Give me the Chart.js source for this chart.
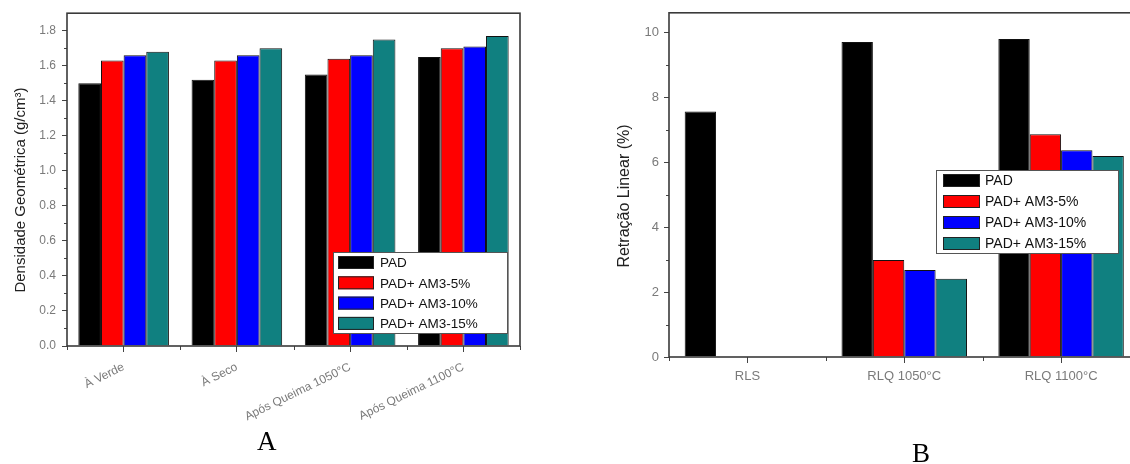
<!DOCTYPE html>
<html>
<head>
<meta charset="utf-8">
<script src="https://cdn.jsdelivr.net/npm/chart.js@4.4.1/dist/chart.umd.min.js"></script>
<style>
  html, body { margin: 0; padding: 0; background: #fff; width: 1130px; height: 464px; overflow: hidden; }
  #wrapA { position: absolute; left: 0; top: 0; width: 540px; height: 464px; }
  #wrapB { position: absolute; left: 580px; top: 0; width: 580px; height: 464px; }
  .panel { position: absolute; font-family: "Liberation Serif", "DejaVu Serif", serif; font-size: 27px; color: #000; line-height: 1; }
  #labA { left: 257px; top: 428px; }
  #labB { left: 912px; top: 440px; }
</style>
</head>
<body>
<div id="wrapA"><canvas id="chartA" width="540" height="464"></canvas></div>
<div id="wrapB"><canvas id="chartB" width="580" height="464"></canvas></div>
<div class="panel" id="labA">A</div>
<div class="panel" id="labB">B</div>
<script>
// ---------- data ----------
const seriesNames = ['PAD', 'PAD+ AM3-5%', 'PAD+ AM3-10%', 'PAD+ AM3-15%'];
const seriesColors = ['#000000', '#ff0000', '#0000ff', '#108080'];

const categoriesA = ['À Verde', 'À Seco', 'Após Queima 1050°C', 'Após Queima 1100°C'];
const padA   = [1.50, 1.52, 1.55, 1.65];
const am5A   = [1.63, 1.63, 1.64, 1.70];
const am10A  = [1.66, 1.66, 1.66, 1.71];
const am15A  = [1.68, 1.70, 1.75, 1.77];
const yTitleA = 'Densidade Geométrica (g/cm³)';
const yMaxA = 1.9, yStepA = 0.2;

const categoriesB = ['RLS', 'RLQ 1050°C', 'RLQ 1100°C'];
const padB   = [7.56, 9.70, 9.79];
const am5B   = [null, 2.99, 6.86];
const am10B  = [null, 2.68, 6.37];
const am15B  = [null, 2.41, 6.19];
const yTitleB = 'Retração Linear (%)';
const yMaxB = 10.6, yStepB = 2;

// ---------- plugins ----------
const frameAndMinor = {
  id: 'frameAndMinor',
  afterDraw(chart, args, o) {
    const { ctx, chartArea: a, scales: { x, y } } = chart;
    ctx.save();
    ctx.strokeStyle = '#444';
    ctx.lineWidth = 1;
    // y minor ticks
    const yt = y.ticks;
    for (let i = 0; i < yt.length - 1; i++) {
      const v = (yt[i].value + yt[i + 1].value) / 2;
      const py = Math.round(y.getPixelForValue(v)) + 0.5;
      ctx.beginPath(); ctx.moveTo(a.left - 3, py); ctx.lineTo(a.left, py); ctx.stroke();
    }
    // x minor ticks at category boundaries
    for (let i = 0; i <= x.ticks.length; i++) {
      const px = Math.round(x.getPixelForValue(i - 0.5)) + 0.5;
      ctx.beginPath(); ctx.moveTo(px, a.bottom); ctx.lineTo(px, a.bottom + 4); ctx.stroke();
    }
    // frame
    ctx.strokeStyle = '#3a3a3a';
    ctx.lineWidth = 1.6;
    ctx.strokeRect(a.left, a.top, a.right - a.left, a.bottom - a.top);
    ctx.restore();
  }
};

const boxLegend = {
  id: 'boxLegend',
  afterDraw(chart, args, o) {
    const { ctx } = chart;
    const ds = chart.data.datasets;
    ctx.save();
    ctx.fillStyle = '#fff';
    ctx.fillRect(o.left, o.top, o.width, o.height);
    ctx.strokeStyle = '#555';
    ctx.lineWidth = 1;
    ctx.strokeRect(o.left + 0.5, o.top + 0.5, o.width, o.height);
    ctx.font = o.fontSize + 'px "Liberation Sans", Arial, sans-serif';
    ctx.textBaseline = 'middle';
    ctx.textAlign = 'left';
    ds.forEach((d, i) => {
      const cy = o.top + o.first + i * o.row;
      ctx.fillStyle = d.backgroundColor;
      ctx.fillRect(o.left + o.swX, cy - o.swH / 2, o.swW, o.swH);
      ctx.strokeStyle = '#222';
      ctx.strokeRect(o.left + o.swX + 0.5, cy - o.swH / 2 + 0.5, o.swW - 1, o.swH - 1);
      ctx.fillStyle = '#111';
      ctx.fillText(d.label, o.left + o.textX, cy + 1);
    });
    ctx.restore();
  }
};

function makeDatasets(arrs) {
  return arrs.map((data, i) => ({
    label: seriesNames[i],
    data: data,
    backgroundColor: seriesColors[i],
    borderColor: '#111',
    borderWidth: 1,
    categoryPercentage: 0.8,
    barPercentage: 1.0
  }));
}

const tickGrey = '#7a7a7a';
const sans = '"Liberation Sans", Arial, sans-serif';

// ---------- Chart A ----------
new Chart(document.getElementById('chartA'), {
  type: 'bar',
  data: { labels: categoriesA, datasets: makeDatasets([padA, am5A, am10A, am15A]) },
  options: {
    responsive: false,
    animation: false,
    devicePixelRatio: 1,
    layout: { padding: { left: 0, right: 20, top: 13, bottom: 0 } },
    plugins: {
      legend: { display: false },
      tooltip: { enabled: false },
      boxLegend: { left: 333, top: 252, width: 174, height: 81, first: 10.5, row: 20.3, swX: 5, swW: 36, swH: 13, textX: 47, fontSize: 13.5 }
    },
    scales: {
      x: {
        afterFit: s => { s.height = 118; },
        grid: { display: true, drawOnChartArea: false, drawTicks: true, tickLength: 6, color: '#444', offset: false },
        border: { display: false },
        ticks: { color: tickGrey, font: { family: sans, size: 12 }, minRotation: 26, maxRotation: 26, padding: 8, autoSkip: false }
      },
      y: {
        min: 0, max: yMaxA,
        afterFit: s => { s.width = 67; },
        grid: { display: true, drawOnChartArea: false, drawTicks: true, tickLength: 5, color: '#444' },
        border: { display: false },
        ticks: { stepSize: yStepA, includeBounds: false, color: tickGrey, font: { family: sans, size: 12 }, padding: 6,
                 callback: v => Number(v).toFixed(1) },
        title: { display: true, text: yTitleA + '     ', color: '#222', font: { family: sans, size: 15 }, padding: { top: 12, bottom: 0 } }
      }
    }
  },
  plugins: [frameAndMinor, boxLegend]
});

// ---------- Chart B ----------
new Chart(document.getElementById('chartB'), {
  type: 'bar',
  data: { labels: categoriesB, datasets: makeDatasets([padB, am5B, am10B, am15B]) },
  options: {
    responsive: false,
    animation: false,
    devicePixelRatio: 1,
    layout: { padding: { left: 0, right: 20.5, top: 10, bottom: 0 } },
    plugins: {
      legend: { display: false },
      tooltip: { enabled: false },
      boxLegend: { left: 356, top: 170, width: 182, height: 83, first: 10.5, row: 21, swX: 7, swW: 37, swH: 13, textX: 49, fontSize: 14 }
    },
    scales: {
      x: {
        afterFit: s => { s.height = 107; },
        grid: { display: true, drawOnChartArea: false, drawTicks: true, tickLength: 6, color: '#444', offset: false },
        border: { display: false },
        ticks: { color: tickGrey, font: { family: sans, size: 13 }, maxRotation: 0, padding: 6, autoSkip: false }
      },
      y: {
        min: 0, max: yMaxB,
        afterFit: s => { s.width = 89; },
        grid: { display: true, drawOnChartArea: false, drawTicks: true, tickLength: 5, color: '#444' },
        border: { display: false },
        ticks: { stepSize: yStepB, includeBounds: false, color: tickGrey, font: { family: sans, size: 13 }, padding: 5 },
        title: { display: true, text: yTitleB + '     ', color: '#222', font: { family: sans, size: 16 }, padding: { top: 35, bottom: 0 } }
      }
    }
  },
  plugins: [frameAndMinor, boxLegend]
});
</script>
</body>
</html>
